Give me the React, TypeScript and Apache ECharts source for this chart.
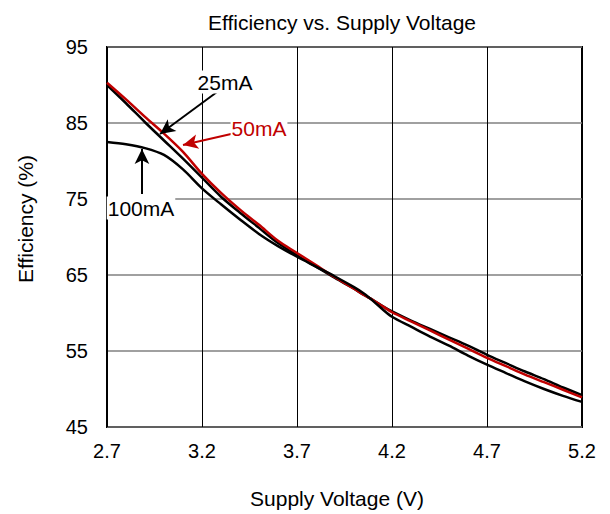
import React, { useEffect, useRef } from "react";
import * as echarts from "echarts";

const FONT = "'Liberation Sans', Arial, sans-serif";
const RED = "#c00000";

const voltage = [2.7, 2.8, 2.9, 3.0, 3.1, 3.2, 3.3, 3.4, 3.5, 3.6, 3.7, 3.8, 3.9, 4.0, 4.05, 4.1, 4.15, 4.2, 4.3, 4.4, 4.5, 4.6, 4.7, 4.8, 4.9, 5.0, 5.1, 5.2];
const eff25mA = [90.0, 87.6, 85.1, 82.7, 80.3, 77.8, 75.3, 73.2, 71.2, 69.2, 67.6, 66.1, 64.6, 63.2, 62.4, 61.7, 60.9, 60.2, 59.0, 57.9, 56.8, 55.7, 54.5, 53.4, 52.3, 51.3, 50.2, 49.2];
const eff50mA = [90.3, 88.1, 85.8, 83.6, 81.2, 78.3, 75.8, 73.6, 71.6, 69.5, 67.9, 66.3, 64.7, 63.2, 62.4, 61.7, 60.9, 60.1, 58.9, 57.7, 56.5, 55.3, 54.1, 53.0, 51.9, 50.9, 49.9, 48.9];
const eff100mA = [82.5, 82.2, 81.7, 80.8, 78.9, 76.4, 74.3, 72.3, 70.4, 68.8, 67.4, 66.1, 64.8, 63.4, 62.6, 61.6, 60.5, 59.5, 58.2, 56.9, 55.7, 54.4, 53.2, 52.1, 51.0, 50.0, 49.1, 48.3];

// annotation arrows: [tailV, tailEff, tipV, tipEff]
const arrow25 = [3.279, 89.08, 2.979, 83.55];
const arrow50 = [3.353, 83.55, 3.1, 82.1];
const arrow100 = [2.884, 75.66, 2.884, 81.58];

const title = "Efficiency vs. Supply Voltage";
const xName = "Supply Voltage (V)";
const yName = "Efficiency (%)";

function pairs(ys: number[]) {
  return voltage.map((v, i) => [v, ys[i]]);
}

function arrowLine(a: number[], color: string) {
  return {
    silent: true,
    symbol: ["none", "arrow"],
    symbolSize: [11, 15],
    label: { show: false },
    lineStyle: { color, width: 2, type: "solid" },
    data: [[{ coord: [a[0], a[1]] }, { coord: [a[2], a[3]] }]],
  };
}

export default function App() {
  const ref = useRef<HTMLDivElement>(null);
  useEffect(() => {
    if (!ref.current) return;
    const chart = echarts.init(ref.current, null, { renderer: "svg" });
    const lineSeries = (name: string, ys: number[], color: string, arrow: number[], z: number) => ({
      type: "line",
      name,
      data: pairs(ys),
      showSymbol: false,
      smooth: 0.3,
      z,
      lineStyle: { color, width: 2.5 },
      itemStyle: { color },
      markLine: arrowLine(arrow, color),
    });
    chart.setOption({
      animation: false,
      backgroundColor: "#fff",
      grid: {
        left: 107,
        top: 47,
        width: 475,
        height: 380,
        show: true,
        borderColor: "#000",
        borderWidth: 2,
        backgroundColor: "transparent",
      },
      xAxis: {
        type: "value",
        min: 2.7,
        max: 5.2,
        interval: 0.5,
        axisLine: { show: false },
        axisTick: { show: false },
        splitLine: { show: true, lineStyle: { color: "#000", width: 1 } },
        axisLabel: {
          color: "#000",
          fontFamily: FONT,
          fontSize: 20,
          margin: 14,
          formatter: (v: number) => v.toFixed(1),
        },
      },
      yAxis: {
        type: "value",
        min: 45,
        max: 95,
        interval: 10,
        axisLine: { show: false },
        axisTick: { show: false },
        splitLine: { show: true, lineStyle: { color: "#808080", width: 1.5 } },
        axisLabel: {
          color: "#000",
          fontFamily: FONT,
          fontSize: 20,
          margin: 19,
        },
      },
      series: [
        lineSeries("25mA", eff25mA, "#000", arrow25, 3),
        lineSeries("50mA", eff50mA, RED, arrow50, 4),
        lineSeries("100mA", eff100mA, "#000", arrow100, 5),
      ],
      graphic: [
        {
          type: "text",
          x: 342,
          y: 22,
          style: { text: title, font: `21px ${FONT}`, fill: "#000", align: "center", verticalAlign: "middle" },
        },
        {
          type: "text",
          x: 337,
          y: 498,
          style: { text: xName, font: `21px ${FONT}`, fill: "#000", align: "center", verticalAlign: "middle" },
        },
        {
          type: "text",
          x: 25,
          y: 219,
          rotation: Math.PI / 2,
          style: { text: yName, font: `21px ${FONT}`, fill: "#000", align: "center", verticalAlign: "middle" },
        },
        {
          type: "text",
          x: 225,
          y: 82,
          z: 10,
          style: {
            text: "25mA", font: `21px ${FONT}`, fill: "#000", align: "center", verticalAlign: "middle",
            backgroundColor: "#fff", padding: [1, 1],
          },
        },
        {
          type: "text",
          x: 259,
          y: 128,
          z: 10,
          style: {
            text: "50mA", font: `21px ${FONT}`, fill: RED, align: "center", verticalAlign: "middle",
            backgroundColor: "#fff", padding: [1, 1],
          },
        },
        {
          type: "text",
          x: 141,
          y: 208,
          z: 10,
          style: {
            text: "100mA", font: `21px ${FONT}`, fill: "#000", align: "center", verticalAlign: "middle",
            backgroundColor: "#fff", padding: [1, 1],
          },
        },
      ],
    });
    return () => chart.dispose();
  }, []);
  return (
    <div
      ref={ref}
      style={{ position: "fixed", left: 0, top: 0, width: 610, height: 514, background: "#fff" }}
    />
  );
}
